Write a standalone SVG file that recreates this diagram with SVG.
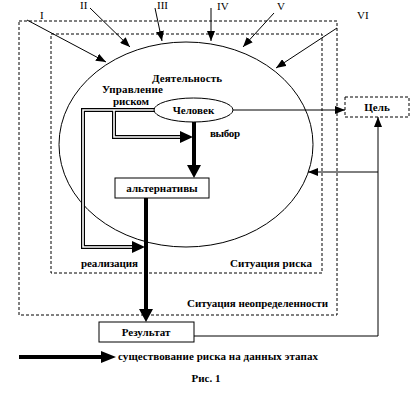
<svg xmlns="http://www.w3.org/2000/svg" width="415" height="400" viewBox="0 0 415 400">
<style>
.t{font-family:"Liberation Serif",serif;font-weight:bold;font-size:11px;fill:#000}
.n{font-family:"Liberation Serif",serif;font-size:11px;fill:#000}
.thin{stroke:#000;stroke-width:1;fill:none}
.thick{stroke:#000;stroke-width:4;fill:none}
.dash{stroke:#000;stroke-width:1;fill:none;stroke-dasharray:3,2}
.dblo{stroke:#000;stroke-width:4;fill:none}
.dbli{stroke:#fff;stroke-width:1.6;fill:none}
.box{fill:#fff;stroke:#000;stroke-width:1}
</style>
<defs>
<marker id="ah" markerUnits="userSpaceOnUse" markerWidth="10" markerHeight="8" refX="10" refY="4" orient="auto">
<path d="M0,0 L10,4 L0,8 z" fill="#000"/>
</marker>
</defs>
<g id="uncertainty">
<rect class="dash" x="19" y="21" width="318" height="294"/>
<text class="t" x="187" y="307" textLength="141">Ситуация неопределенности</text>
</g>
<g id="risk-situation">
<rect class="dash" x="51" y="34" width="271" height="239"/>
<text class="t" x="230" y="267" textLength="82">Ситуация риска</text>
</g>
<g id="activity">
<ellipse class="thin" cx="186" cy="144.5" rx="127" ry="102.5"/>
<text class="t" x="152" y="82" textLength="70">Деятельность</text>
</g>
<g id="connectors">
<line class="thin" x1="233" y1="110" x2="345" y2="110" marker-end="url(#ah)"/>
<polyline class="thin" points="194,336 378,336 378,117" marker-end="url(#ah)"/>
<line class="thin" x1="378" y1="172" x2="308" y2="172" marker-end="url(#ah)"/>
<line class="thin" x1="27" y1="20" x2="106" y2="62" marker-end="url(#ah)"/>
<line class="thin" x1="90" y1="8" x2="130" y2="47" marker-end="url(#ah)"/>
<line class="thin" x1="155" y1="8" x2="162" y2="41" marker-end="url(#ah)"/>
<line class="thin" x1="211" y1="8" x2="211" y2="41" marker-end="url(#ah)"/>
<line class="thin" x1="274" y1="13" x2="243" y2="47" marker-end="url(#ah)"/>
<line class="thin" x1="337" y1="28" x2="276" y2="68" marker-end="url(#ah)"/>
<path class="dblo" d="M154,110 H83 V247 H133 M114,110 V137 H181"/>
<path class="dbli" d="M154,110 H83 V247 H133 M114,110 V137 H181"/>
<polygon points="180,131 193,137 180,143" fill="#000"/>
<polygon points="132,241 145,247 132,253" fill="#000"/>
<line class="thick" x1="194" y1="122" x2="194" y2="166"/>
<polygon points="187,165 194,178 201,165" fill="#000"/>
<line class="thick" x1="146" y1="198" x2="146" y2="310"/>
<polygon points="139,309 146,322 153,309" fill="#000"/>
</g>
<g id="numerals">
<text class="n" x="40" y="19">I</text>
<text class="n" x="80" y="9">II</text>
<text class="n" x="157" y="9">III</text>
<text class="n" x="217" y="10">IV</text>
<text class="n" x="277" y="10">V</text>
<text class="n" x="357" y="19">VI</text>
</g>
<g id="chelovek">
<ellipse class="box" cx="193.5" cy="110" rx="39.5" ry="12"/>
<text class="t" x="193.5" y="114" text-anchor="middle">Человек</text>
</g>
<g id="management">
<text class="t" x="102" y="93" textLength="61">Управление</text>
<text class="t" x="113" y="105" textLength="36">риском</text>
</g>
<g id="choice">
<text class="t" x="210" y="137" textLength="30">выбор</text>
</g>
<g id="alternatives">
<rect class="box" x="115" y="178" width="94" height="20"/>
<text class="t" x="162" y="192" text-anchor="middle">альтернативы</text>
</g>
<g id="realization">
<text class="t" x="81" y="267" textLength="57">реализация</text>
</g>
<g id="goal">
<rect class="dash" x="345" y="97" width="64" height="20" fill="#fff"/>
<text class="t" x="377" y="111" text-anchor="middle">Цель</text>
</g>
<g id="result">
<rect class="box" x="99" y="322" width="95" height="20"/>
<text class="t" x="146" y="336" text-anchor="middle">Результат</text>
</g>
<g id="legend">
<line class="thick" x1="19" y1="357" x2="102" y2="357"/>
<polygon points="101,351 116,357 101,363" fill="#000"/>
<text class="t" x="118" y="360" textLength="200">существование риска на данных этапах</text>
</g>
<g id="caption">
<text class="t" x="206" y="382" text-anchor="middle">Рис. 1</text>
</g>
</svg>
